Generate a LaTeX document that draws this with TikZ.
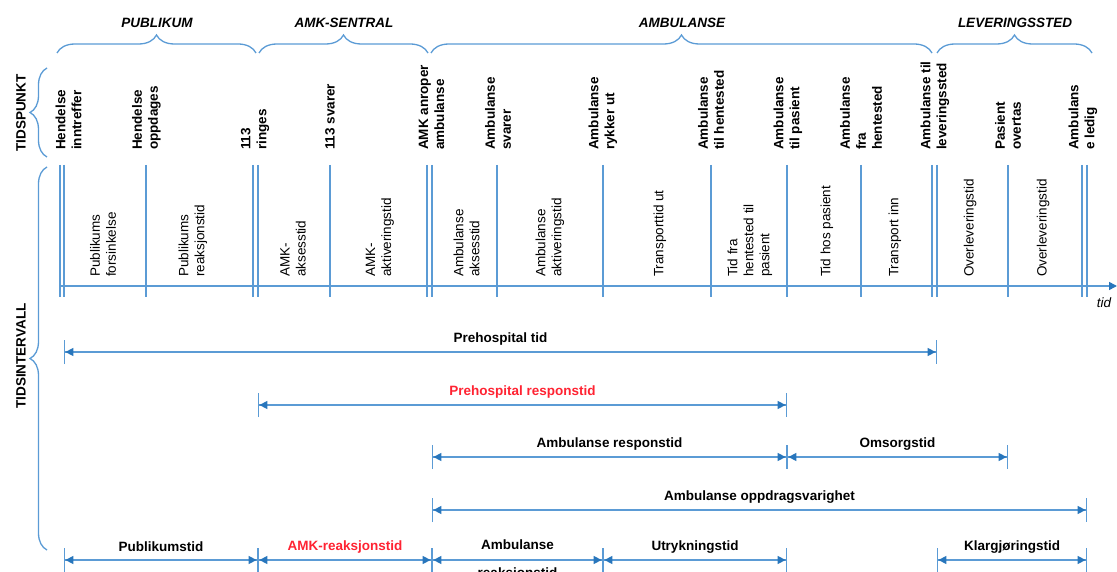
\documentclass[tikz,border=0pt]{standalone}
\usepackage{fontspec}
\setmainfont{Liberation Sans}
\usetikzlibrary{arrows.meta,decorations.pathreplacing}
\definecolor{lb}{RGB}{91,155,213}
\definecolor{ab}{RGB}{40,118,188}
\definecolor{rd}{RGB}{255,35,50}
\begin{document}
\begin{tikzpicture}[x=1pt,y=-1pt,
  every node/.style={font=\fontsize{13.5}{16}\selectfont, inner sep=0pt},
  hdr/.style={font=\fontsize{13.5}{16}\selectfont\bfseries\itshape},
  brc/.style={draw=lb, line width=1.3pt, decorate, decoration={brace, amplitude=18pt}},
  tline/.style={draw=lb, line width=1.5pt},
  tp/.style={rotate=90, anchor=west, align=left, font=\fontsize{13.5}{16}\selectfont\bfseries},
  iv/.style={rotate=90, anchor=west, align=left},
  spanarrow/.style={draw=lb, line width=1.4pt,
    {Bar[width=24pt]Triangle[length=8pt,width=8pt,color=ab]}-{Triangle[length=8pt,width=8pt,color=ab]Bar[width=24pt]}},
  lbl/.style={midway, yshift=13pt, font=\fontsize{13.5}{16}\selectfont\bfseries},
]
\useasboundingbox (0,0) rectangle (1117,572);

% header braces
\coordinate (pubL) at (57,53);  \coordinate (pubR) at (256,53);
\coordinate (amkL) at (259,53); \coordinate (amkR) at (428,53);
\coordinate (ambL) at (431,53); \coordinate (ambR) at (932,53);
\coordinate (levL) at (937,53); \coordinate (levR) at (1092,53);
\draw[brc] (pubL) -- (pubR);
\draw[brc] (amkL) -- (amkR);
\draw[brc] (ambL) -- (ambR);
\draw[brc] (levL) -- (levR);
\node[hdr] (hpub) at (157,23) {PUBLIKUM};
\node[hdr] (hamk) at (344,23) {AMK-SENTRAL};
\node[hdr] (hamb) at (682,23) {AMBULANSE};
\node[hdr] (hlev) at (1015,23) {LEVERINGSSTED};

% left braces
\coordinate (tpB) at (47,157); \coordinate (tpT) at (47,68);
\coordinate (tiB) at (47,550); \coordinate (tiT) at (47,167);
\draw[brc, decoration={brace, amplitude=17pt}] (tpB) -- (tpT);
\draw[brc, decoration={brace, amplitude=17pt}] (tiB) -- (tiT);
\node[rotate=90, font=\fontsize{13.5}{16}\selectfont\bfseries] (ltp) at (21,113) {TIDSPUNKT};
\node[rotate=90, font=\fontsize{13.5}{16}\selectfont\bfseries] (lti) at (21,356) {TIDSINTERVALL};

% vertical time lines
\foreach \x [count=\n] in {60,64,146,253,258,330,427,432,497,603,711,787,861,932,937,1008,1082,1087}{
  \coordinate (v\n t) at (\x,165);
  \coordinate (v\n b) at (\x,297);
  \draw[tline] (v\n t) -- (v\n b);
}
% time axis
\coordinate (ax0) at (60,286);
\coordinate (ax1) at (1117,286);
\draw[tline, -{Triangle[length=8pt,width=8pt,color=ab]}] (ax0) -- (ax1);
\node[font=\fontsize{13.5}{16}\selectfont\itshape] (tid) at (1104,303) {tid};

% time point labels
\node[tp] (p1) at (68.5,150) {Hendelse\\inntreffer};
\node[tp] (p2) at (146.5,150) {Hendelse\\oppdages};
\node[tp] (p3) at (255,150) {113\\ringes};
\node[tp] (p4) at (330,150) {113 svarer};
\node[tp] (p5) at (431.5,150) {AMK anroper\\ambulanse};
\node[tp] (p6) at (498,150) {Ambulanse\\svarer};
\node[tp] (p7) at (603,150) {Ambulanse\\rykker ut};
\node[tp] (p8) at (711,150) {Ambulanse\\til hentested};
\node[tp] (p9) at (788,150) {Ambulanse\\til pasient};
\node[tp] (p10) at (861,150) {Ambulanse\\fra\\hentested};
\node[tp] (p11) at (935,150) {Ambulanse til\\leveringssted};
\node[tp] (p12) at (1008,150) {Pasient\\overtas};
\node[tp] (p13) at (1083,150) {Ambulans\\e ledig};

% interval labels
\node[iv] (i1) at (103,277) {Publikums\\forsinkelse};
\node[iv] (i2) at (193,277) {Publikums\\reaksjonstid};
\node[iv] (i3) at (293,277) {AMK-\\aksesstid};
\node[iv] (i4) at (380,277) {AMK-\\aktiveringstid};
\node[iv] (i5) at (466.5,277) {Ambulanse\\aksesstid};
\node[iv] (i6) at (550,277) {Ambulanse\\aktiveringstid};
\node[iv] (i7) at (660,277) {Transporttid ut};
\node[iv] (i8) at (750,277) {Tid fra\\hentested til\\pasient};
\node[iv] (i9) at (827,277) {Tid hos pasient};
\node[iv] (i10) at (895,277) {Transport inn};
\node[iv] (i11) at (970,277) {Overleveringstid};
\node[iv] (i12) at (1043,277) {Overleveringstid};

% interval arrows
\coordinate (r1a) at (64,352);   \coordinate (r1b) at (937,352);
\coordinate (r2a) at (258,405);  \coordinate (r2b) at (787,405);
\coordinate (r3a) at (432,457);  \coordinate (r3b) at (787,457);  \coordinate (r3c) at (1008,457);
\coordinate (r4a) at (432,510);  \coordinate (r4b) at (1087,510);
\coordinate (r5a) at (64,560);   \coordinate (r5b) at (258,560);  \coordinate (r5c) at (432,560);
\coordinate (r5d) at (603,560);  \coordinate (r5e) at (787,560);
\coordinate (r5f) at (937,560);  \coordinate (r5g) at (1087,560);

\draw[spanarrow] (r1a) -- node[lbl] {Prehospital tid} (r1b);
\draw[spanarrow] (r2a) -- node[lbl, text=rd] {Prehospital responstid} (r2b);
\draw[spanarrow] (r3a) -- node[lbl] {Ambulanse responstid} (r3b);
\draw[spanarrow] (r3b) -- node[lbl] {Omsorgstid} (r3c);
\draw[spanarrow] (r4a) -- node[lbl] {Ambulanse oppdragsvarighet} (r4b);
\draw[spanarrow] (r5a) -- node[lbl] {Publikumstid} (r5b);
\draw[spanarrow] (r5b) -- node[lbl, text=rd] {AMK-reaksjonstid} (r5c);
\draw[spanarrow] (r5c) -- node[midway, align=center, font=\fontsize{13.5}{16}\selectfont\bfseries] {Ambulanse\\[12pt]reaksjonstid} (r5d);
\draw[spanarrow] (r5d) -- node[lbl] {Utrykningstid} (r5e);
\draw[spanarrow] (r5f) -- node[lbl] {Klargjøringstid} (r5g);
\end{tikzpicture}
\end{document}
